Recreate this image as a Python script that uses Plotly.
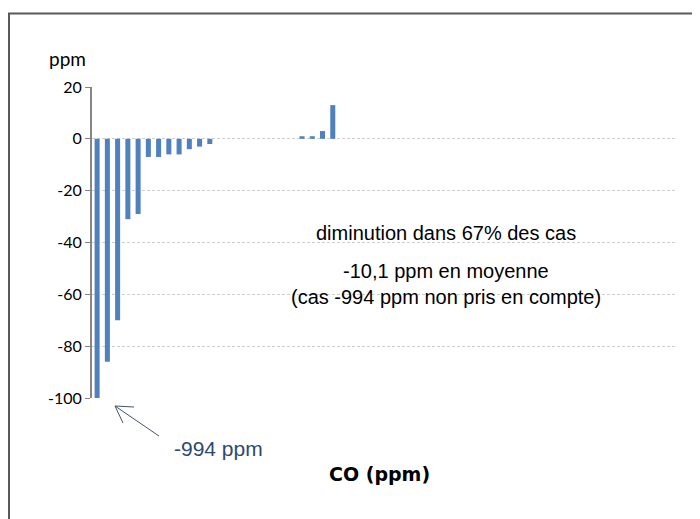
import plotly.graph_objects as go

# Data: change in CO (ppm) per case; None = no bar
values = [-994, -86, -70, -31, -29, -7, -7, -6, -6, -4, -3, -2,
          None, None, None, None, None, None, None, None,
          1, 1, 3, 13] + [None] * 33
categories = list(range(len(values)))
y_ticks = [20, 0, -20, -40, -60, -80, -100]
y_tick_text = [str(v) for v in y_ticks]

OFF = 8  # page body margin
W, H = 700 - OFF, 519 - OFF
L, R, T, B = 92 - OFF, 24, 87 - OFF, 121
PW, PH = W - L - R, H - T - B

def px(x):
    return (x - OFF - L) / PW

def py(y):
    return (H - B - (y - OFF)) / PH

fig = go.Figure(go.Bar(x=categories, y=values, marker=dict(color="#4F81BD", line=dict(width=0)),
                       hoverinfo="skip"))

fig.update_layout(
    width=W, height=H,
    margin=dict(l=L, r=R, t=T, b=B),
    paper_bgcolor="white", plot_bgcolor="white",
    bargap=0.51, showlegend=False,
    font=dict(family="Lato, Liberation Sans, sans-serif", color="black"),
)
fig.update_xaxes(range=[-0.5, len(values) - 0.5], showticklabels=False, showgrid=False,
                 zeroline=False, showline=False, ticks="", title=None)
fig.update_yaxes(range=[-100, 20], tickvals=y_ticks, ticktext=y_tick_text,
                 ticks="outside", ticklen=5, tickcolor="#868686",
                 showline=True, linecolor="#868686", linewidth=2,
                 showgrid=True, gridcolor="#CFCFCF", griddash="3px,2px", gridwidth=1,
                 zeroline=False, tickfont=dict(size=16, family="Lato, sans-serif", color="black"))

def note(text, x, y, size, family="Liberation Sans", color="black", xanchor="center"):
    return dict(text=text, x=px(x), y=py(y), xref="paper", yref="paper",
                xanchor=xanchor, yanchor="middle", showarrow=False,
                font=dict(family=family, size=size, color=color))

annotations = [
    note("<b>CO (ppm)</b>", 379, 474, 19, family="DejaVu Sans"),
    note("ppm", 67, 58, 19, family="Lato, sans-serif"),
    note("diminution dans 67% des cas", 446, 233, 20),
    note("-10,1 ppm en moyenne", 446, 271, 20),
    note("(cas -994 ppm non pris en compte)", 446, 297, 20),
    note("-994 ppm", 172, 448, 21, color="#2C4A6E", xanchor="left"),
]
fig.update_layout(annotations=annotations)

arrow_path = (f"M {px(159)} {py(436)} L {px(115)} {py(406)} "
              f"M {px(134)} {py(407)} L {px(115)} {py(406)} L {px(123)} {py(423)}")
shapes = [
    dict(type="path", path=arrow_path, xref="paper", yref="paper",
         line=dict(color="#44546A", width=1)),
    dict(type="rect", xref="paper", yref="paper", x0=px(9), x1=px(705), y0=py(13.5), y1=py(530),
         line=dict(color="#595959", width=2), fillcolor="rgba(0,0,0,0)", layer="above"),
]
fig.update_layout(shapes=shapes)

fig.write_html("out.html")
